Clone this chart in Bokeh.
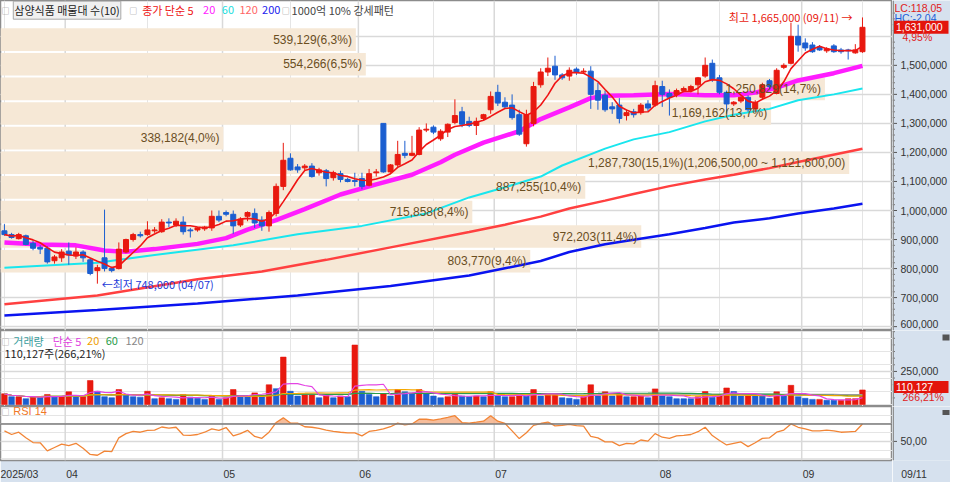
import numpy as np
import pandas as pd
from bokeh.plotting import figure
from bokeh.layouts import column, row
from bokeh.models import Range1d, FixedTicker, Label, Span, ColumnDataSource, Grid
from bokeh.core.properties import value
from bokeh.embed import file_html
from bokeh.resources import INLINE

# ---------------- data (prices in thousand KRW, volume in thousand shares) ----------------
month_start = [0, 9, 31, 50, 69, 92, 112]
month_labels = ["2025/03", "04", "05", "06", "07", "08", "09"]
last_date_label = "09/11"

opens = [930, 917, 903, 913, 887, 873, 870, 827, 837, 860,
         843, 857, 830, 793, 837, 800, 800, 857, 900, 917,
         917, 930, 927, 960, 950, 960, 933, 933, 937, 940,
         980, 993, 987, 950, 980, 990, 967, 947, 990, 1083,
         1180, 1150, 1147, 1153, 1130, 1137, 1113, 1127, 1107, 1103,
         1110, 1087, 1130, 1300, 1133, 1157, 1197, 1190, 1193, 1277,
         1287, 1247, 1270, 1303, 1340, 1307, 1293, 1317, 1347, 1407,
         1373, 1363, 1330, 1230, 1300, 1433, 1477, 1497, 1467, 1463,
         1487, 1477, 1480, 1413, 1397, 1357, 1363, 1327, 1340, 1337,
         1367, 1363, 1427, 1403, 1400, 1413, 1413, 1433, 1463, 1507,
         1457, 1407, 1367, 1377, 1390, 1350, 1390, 1447, 1403, 1493,
         1507, 1600, 1577, 1570, 1563, 1550, 1567, 1553, 1553, 1543,
         1547]
highs = [953, 923, 923, 917, 897, 880, 877, 847, 867, 890,
         873, 863, 837, 813, 1003, 807, 890, 903, 923, 927,
         963, 943, 970, 973, 973, 980, 940, 943, 947, 1000,
         1000, 1000, 1000, 977, 997, 1007, 980, 1000, 1093, 1233,
         1197, 1160, 1160, 1163, 1147, 1143, 1137, 1137, 1113, 1130,
         1130, 1143, 1143, 1300, 1160, 1240, 1240, 1257, 1287, 1300,
         1293, 1280, 1300, 1383, 1357, 1323, 1320, 1333, 1410, 1433,
         1390, 1400, 1347, 1347, 1443, 1490, 1527, 1533, 1473, 1493,
         1493, 1490, 1497, 1440, 1413, 1373, 1387, 1347, 1350, 1370,
         1380, 1447, 1447, 1417, 1420, 1427, 1433, 1460, 1527, 1520,
         1467, 1413, 1377, 1393, 1397, 1380, 1440, 1453, 1490, 1507,
         1647, 1640, 1593, 1580, 1570, 1563, 1573, 1560, 1557, 1573,
         1665]
lows = [913, 903, 900, 880, 863, 850, 817, 817, 823, 813,
        833, 823, 777, 748, 790, 787, 797, 853, 893, 907,
        913, 923, 923, 943, 943, 917, 907, 927, 930, 930,
        960, 980, 920, 943, 963, 940, 930, 927, 980, 1070,
        1137, 1130, 1137, 1113, 1120, 1083, 1103, 1097, 1097, 1083,
        1073, 1083, 1117, 1130, 1130, 1150, 1180, 1187, 1190, 1270,
        1263, 1240, 1253, 1297, 1287, 1287, 1260, 1310, 1333, 1360,
        1350, 1313, 1257, 1220, 1290, 1423, 1463, 1450, 1450, 1447,
        1467, 1470, 1350, 1347, 1340, 1333, 1300, 1310, 1320, 1330,
        1343, 1357, 1357, 1327, 1390, 1407, 1407, 1400, 1457, 1443,
        1400, 1333, 1360, 1370, 1340, 1340, 1383, 1420, 1400, 1487,
        1503, 1547, 1550, 1543, 1550, 1543, 1543, 1540, 1520, 1540,
        1543]
closes = [917, 907, 917, 883, 870, 867, 823, 840, 857, 847,
          857, 837, 783, 803, 800, 793, 867, 900, 917, 913,
          933, 933, 960, 957, 963, 927, 930, 940, 943, 980,
          967, 987, 947, 970, 993, 957, 947, 993, 1083, 1173,
          1140, 1140, 1153, 1117, 1140, 1110, 1130, 1107, 1100, 1100,
          1083, 1127, 1133, 1133, 1157, 1193, 1190, 1197, 1277, 1280,
          1270, 1273, 1297, 1327, 1297, 1293, 1307, 1330, 1393, 1370,
          1357, 1320, 1263, 1330, 1427, 1477, 1490, 1467, 1457, 1483,
          1477, 1480, 1400, 1380, 1347, 1350, 1317, 1337, 1330, 1363,
          1353, 1430, 1400, 1390, 1413, 1420, 1427, 1457, 1500, 1450,
          1407, 1367, 1373, 1390, 1347, 1373, 1433, 1427, 1483, 1500,
          1600, 1570, 1560, 1547, 1553, 1557, 1547, 1547, 1550, 1553,
          1631]

# moving averages (candle index, value)
ma20_idx = [0, 5, 10, 14, 17, 21, 27, 31, 34, 38, 42, 47, 52, 57, 61, 63, 67, 72, 75, 79,
            82, 84, 88, 93, 98, 102, 105, 108, 111, 116, 120]
ma20_val = [890, 883, 880, 862, 858, 867, 885, 905, 934, 967, 1005, 1055, 1090, 1123, 1166,
            1192, 1234, 1273, 1315, 1355, 1387, 1395, 1397, 1401, 1397, 1397, 1406, 1423,
            1448, 1473, 1498]
ma60_idx = [0, 13, 21, 32, 41, 50, 59, 65, 70, 75, 78, 84, 88, 93, 98, 102, 107, 111, 116, 120]
ma60_val = [803, 820, 847, 880, 918, 947, 990, 1045, 1080, 1117, 1155, 1213, 1245, 1270,
            1307, 1330, 1350, 1380, 1400, 1420]
ma120_idx = [0, 13, 27, 36, 45, 54, 65, 70, 75, 79, 84, 88, 93, 98, 102, 107, 111, 120]
ma120_val = [677, 707, 763, 790, 830, 873, 926, 951, 979, 1007, 1034, 1057, 1084, 1107,
             1123, 1146, 1167, 1213]
ma200_idx = [0, 13, 27, 41, 54, 65, 70, 75, 79, 84, 88, 93, 98, 102, 107, 111, 116, 120]
ma200_val = [638, 657, 680, 707, 740, 776, 801, 826, 857, 884, 899, 918, 940, 959, 973,
             990, 1007, 1023]

volumes = [81, 59, 59, 44, 59, 59, 76, 59, 59, 96,
           59, 59, 181, 100, 59, 51, 113, 76, 59, 56,
           100, 44, 51, 44, 39, 76, 56, 47, 39, 64,
           39, 51, 113, 64, 64, 88, 59, 149, 120, 358,
           100, 64, 76, 76, 51, 69, 51, 64, 59, 449,
           100, 76, 59, 81, 64, 113, 96, 83, 113, 83,
           64, 51, 59, 81, 64, 59, 64, 59, 96, 64,
           59, 59, 81, 64, 113, 64, 81, 81, 51, 47,
           39, 59, 149, 64, 96, 64, 81, 59, 59, 64,
           51, 118, 64, 59, 44, 44, 44, 59, 98, 56,
           64, 125, 98, 64, 64, 64, 64, 47, 96, 64,
           145, 59, 47, 39, 39, 32, 32, 32, 44, 44,
           110.127]
vol_up = [1, 0, 1, 0, 1, 0, 1, 0, 1, 1,
          0, 1, 1, 0, 0, 0, 1, 0, 0, 0,
          1, 0, 1, 0, 0, 1, 0, 0, 0, 1,
          0, 1, 1, 0, 0, 1, 0, 1, 0, 1,
          0, 0, 1, 1, 0, 1, 0, 1, 0, 1,
          0, 0, 0, 1, 0, 1, 0, 0, 1, 0,
          0, 0, 1, 1, 0, 0, 1, 0, 1, 0,
          0, 1, 1, 0, 1, 0, 1, 1, 0, 0,
          0, 1, 1, 0, 1, 0, 1, 0, 1, 1,
          0, 1, 0, 0, 0, 0, 0, 1, 1, 0,
          1, 1, 0, 0, 1, 0, 0, 0, 1, 0,
          1, 0, 0, 0, 1, 0, 0, 1, 1, 1,
          1]

rsi = [62.1, 57.9, 60.5, 54.1, 48.7, 48.4, 39.2, 43.0, 46.8, 45.2,
       47.8, 42.1, 35.1, 34.1, 38.9, 38.3, 54.1, 58.9, 61.4, 60.5,
       62.7, 63.0, 66.5, 65.2, 66.2, 57.3, 57.0, 57.9, 60.5, 64.3,
       62.7, 65.9, 56.3, 58.9, 62.7, 55.7, 53.5, 60.5, 71.6, 77.0,
       71.0, 71.0, 66.8, 66.2, 64.9, 63.0, 61.5, 60.5, 59.8, 59.8,
       56.3, 61.4, 62.7, 64.3, 66.8, 71.0, 69.0, 70.0, 75.4, 75.4,
       74.4, 75.7, 77.5, 79.5, 71.6, 71.0, 72.0, 73.2, 79.5, 73.2,
       70.6, 62.0, 53.2, 60.0, 68.4, 70.5, 72.2, 67.8, 68.4, 69.4,
       68.0, 67.5, 55.7, 54.1, 49.4, 49.4, 45.2, 47.8, 47.1, 51.6,
       50.3, 58.9, 54.8, 53.5, 56.3, 57.0, 57.9, 61.1, 66.2, 56.7,
       51.0, 45.9, 47.8, 49.4, 44.0, 48.4, 53.5, 54.1, 60.5, 63.0,
       70.0, 66.2, 64.3, 62.1, 62.1, 63.0, 62.1, 60.5, 61.0, 61.4,
       70.0]

# volume profile (매물대), bottom band first
band_volume = [803770, 972203, 715858, 887255, 1287730, 338182, 1169162, 1250829, 554266, 539129]
band_pct = ["9,4%", "11,4%", "8,4%", "10,4%", "15,1%", "4,0%", "13,7%", "14,7%", "6,5%", "6,3%"]
band_note = "(1,206,500,00 ~ 1,121,600,00)"

high_text = "최고 1,665,000 (09/11) →"
low_text = "←최저 748,000 (04/07)"
price_ticks = [600000, 700000, 800000, 900000, 1000000, 1100000, 1200000, 1300000, 1400000, 1500000]
lc_text, hc_text, chg_text = "LC:118,05", "HC:-2,04", "4,95%"
vol_tick, vol_chg_text = 250000, "266,21%"
vol_info = "110,127주(266,21%)"
rsi_tick, rsi_tick_label = 50, "50,00"

# ---------------- styling ----------------
K = 1000
UP, DOWN = "#e8190f", "#1b5ed0"
AXBG = "#d6e1ee"
BAND = "#f6e8d6"
GRID = "#d9d9d9"
SEP = "#8c8c8c"
KR = "Noto Sans CJK KR"
NUM = "Liberation Sans"
W, RB = 950, 58
MW = W - RB
x_lo, x_hi = -0.55, 124.2
xr = Range1d(x_lo, x_hi)


def px(xref):
    return (xref - 4) / 7.27


def lab(fig, x, y, text, color, size=11, align="left", font=KR, **kw):
    fig.add_layout(Label(x=x, y=y, text=text, text_color=color, text_font_size=f"{size}px",
                         text_font=font, text_align=align, text_baseline="middle", **kw))


def base(height, yr, grid_ticks, bottom=0, xaxis=None):
    f = figure(width=MW, height=height, x_range=xr, y_range=yr, x_axis_location=xaxis,
               y_axis_location=None, output_backend="svg", toolbar_location=None, title=None,
               min_border_left=0, min_border_right=0, min_border_top=0, min_border_bottom=bottom,
               background_fill_color="white", border_fill_color=AXBG,
               outline_line_color=SEP, outline_line_width=1.5)
    f.add_layout(Grid(dimension=1, ticker=FixedTicker(ticks=grid_ticks),
                      grid_line_color=GRID, grid_line_width=1.3))
    for s in month_start[1:]:
        f.add_layout(Span(location=s - 0.5, dimension="height", line_color=GRID,
                          line_width=1.5, level="underlay"))
    return f


def side(height, yr, ticks, labels, minor, label_y=None, bottom=0, xaxis=None):
    s = figure(width=RB, height=height, x_range=Range1d(0, RB), y_range=yr,
               x_axis_location=xaxis, y_axis_location=None, output_backend="svg",
               toolbar_location=None, title=None, min_border_left=0, min_border_right=0,
               min_border_top=0, min_border_bottom=bottom, background_fill_color=AXBG,
               border_fill_color=AXBG, outline_line_color=None)
    s.add_layout(Span(location=0.7, dimension="height", line_color=SEP, line_width=1.5))
    if minor:
        s.segment(x0=0, x1=2.5, y0=minor, y1=minor, line_color="#777777", line_width=1)
    s.segment(x0=0, x1=4.5, y0=ticks, y1=ticks, line_color="#555555", line_width=1)
    s.text(x=[8] * len(ticks), y=label_y if label_y is not None else ticks, text=labels,
           text_font=value(NUM), text_font_size="10.5px", text_baseline="middle",
           text_color="#333333")
    return s


def stext(s, x, y, t, color):
    s.text(x=[x], y=[y], text=[t], text_font=value(NUM), text_font_size="10.5px",
           text_baseline="middle", text_color=color)


def redbox(s, y, half, t):
    s.quad(left=[1.5], right=[56], bottom=[y - half], top=[y + half], fill_color="#e3140c",
           line_color=None)
    stext(s, 3.5, y, t, "white")


idx = np.arange(len(closes))
o = np.array(opens) * K
h = np.array(highs) * K
l = np.array(lows) * K
c = np.array(closes) * K

# ---------------- price panel ----------------
yr1 = Range1d(586667, 1723333)
upp1 = (yr1.end - yr1.start) / 330
p1 = base(330, yr1, list(range(600000, 1600001, 100000)))

edges = np.linspace(c.min(), c.max(), len(band_volume) + 1)
bv = np.array(band_volume)
band_right = x_lo + bv / bv.max() * 118.7
inset = 3500
p1.quad(left=x_lo, right=band_right, bottom=edges[:-1] + inset, top=edges[1:] - inset,
        fill_color=BAND, line_color=None)
for k in range(len(bv)):
    t = f"{bv[k]:,}({band_pct[k]})" + (band_note if k == int(bv.argmax()) else "")
    lab(p1, band_right[k] - 0.55, (edges[k] + edges[k + 1]) / 2, t, "#6a4e1f", size=12,
        align="right", font=NUM)

p1.line(np.array(ma200_idx), np.array(ma200_val) * K, line_color="#0a14f0", line_width=2.5)
p1.line(np.array(ma120_idx), np.array(ma120_val) * K, line_color="#ff4040", line_width=2.5)
p1.line(np.array(ma60_idx), np.array(ma60_val) * K, line_color="#19e6ee", line_width=2)
p1.line(np.array(ma20_idx), np.array(ma20_val) * K, line_color="#ff1cff", line_width=4.5)

src = ColumnDataSource(dict(x=idx, l=l, h=h, top=np.maximum(o, c), bot=np.minimum(o, c),
                            col=np.where(c > o, UP, DOWN)))
p1.segment(x0="x", y0="l", x1="x", y1="h", line_color="col", line_width=1, source=src)
p1.vbar(x="x", width=0.7, top="top", bottom="bot", fill_color="col", line_color="col",
        line_width=1, source=src)
ma5 = pd.Series(c).rolling(5, min_periods=1).mean().values
p1.line(idx, ma5, line_color="#f01414", line_width=1.6)

imax = int(h.argmax())
imin = int(l.argmin())
lab(p1, imax - 1.4, h.max(), high_text, "#e8190f", size=11, align="right")
lab(p1, imin + 0.6, l.min(), low_text, "#2238d8", size=11)

# header
hy = 1690000
lab(p1, px(1), hy, "□", "#888888", size=8)
lab(p1, px(13), hy, "삼양식품 매물대 수(10)", "#222222", size=11,
    background_fill_color="#f0f0f0", border_line_color="#a8a8a8", padding=1)
lab(p1, px(131), hy, "□", "#888888", size=8)
lab(p1, px(144), hy, "종가 단순 5", "#ee1111", size=11)
lab(p1, px(206), hy, "20", "#ff22ff", size=11)
lab(p1, px(225), hy, "60", "#22dddd", size=11)
lab(p1, px(243), hy, "120", "#ff6666", size=11)
lab(p1, px(266), hy, "200", "#2222ee", size=11)
lab(p1, px(286), hy, "□", "#888888", size=8)
lab(p1, px(296), hy, "1000억 10% 강세패턴", "#444444", size=11)

# tick labels; the lowest one is nudged up so it is not clipped by the panel edge
price_label_y = [t + (3 * upp1 if t == price_ticks[0] else 0) for t in price_ticks]
s1 = side(330, yr1, price_ticks, [f"{t:,}" for t in price_ticks],
          [v for v in range(600000, 1700001, 20000) if v % 100000], label_y=price_label_y)
stext(s1, 2, 1696667, lc_text, "#e02020")
stext(s1, 2, 1663333, hc_text, "#2060d8")
redbox(s1, c[-1], 6.5 * upp1, f"{int(c[-1]):,}")
stext(s1, 10, 1596667, chg_text, "#e02020")

# ---------------- volume panel ----------------
yr2 = Range1d(-14700, 558800)
upp2 = (yr2.end - yr2.start) / 76
p2 = base(76, yr2, [vol_tick])
vol = np.array(volumes) * K
vcol = np.where(np.array(vol_up) == 1, UP, DOWN)
p2.vbar(x=idx, top=vol, bottom=0, width=0.78, fill_color=vcol, line_color=vcol, line_alpha=0.6)
vs = pd.Series(vol)
p2.line(idx, vs.rolling(120, min_periods=1).mean().values, line_color="#9a9a9a", line_width=1.2)
p2.line(idx, vs.rolling(60, min_periods=1).mean().values, line_color="#2a9d4a", line_width=1.2)
p2.line(idx, vs.rolling(20, min_periods=1).mean().values, line_color="#f5a800", line_width=1.2)
p2.line(idx, vs.rolling(5, min_periods=1).mean().values, line_color="#e445e4", line_width=1.2)

vy = 478000
lab(p2, px(1), vy, "□", "#888888", size=8)
lab(p2, px(13), vy, "거래량", "#3a9e9e", size=11)
lab(p2, px(53), vy, "단순 5", "#e040e0", size=11)
lab(p2, px(88), vy, "20", "#f0a000", size=11)
lab(p2, px(107), vy, "60", "#2a9d4a", size=11)
lab(p2, px(127), vy, "120", "#888888", size=11)
lab(p2, px(4), 390000, vol_info, "#222222", size=11)

s2 = side(76, yr2, [vol_tick], [f"{vol_tick:,}"],
          [v for v in range(50000, 550001, 50000) if v != vol_tick])
redbox(s2, vol[-1] + 3 * upp2, 6 * upp2, f"{int(round(vol[-1])):,}")
stext(s2, 10, vol[-1] - 7.5 * upp2, vol_chg_text, "#e02020")
s2.quad(left=[50], right=[57], bottom=[yr2.end - 10 * upp2], top=[yr2.end - 4 * upp2],
        fill_color="#555555", line_color=None)

# ---------------- RSI panel ----------------
yr3 = Range1d(28.1, 90)
p3 = base(76, yr3, [rsi_tick], bottom=13, xaxis="below")
p3.add_layout(Span(location=70, dimension="width", line_color="#7a7a7a", line_width=1.5))
r = np.array(rsi)
p3.varea(x=idx, y1=np.full(len(r), 70.0), y2=np.maximum(r, 70.0), fill_color="#f5b28a",
         fill_alpha=0.85)
p3.line(idx, r, line_color="#f28536", line_width=1.3)
lab(p3, px(1), 84.3, "□", "#888888", size=8)
lab(p3, px(13), 84.3, "RSI 14", "#f07828", size=11, font=NUM)

tick_pos = [x_lo + 2.65] + [s + 0.45 for s in month_start[1:]]
xa = p3.xaxis[0]
xa.ticker = FixedTicker(ticks=tick_pos, minor_ticks=[])
xa.major_label_overrides = {t: lbl for t, lbl in zip(tick_pos, month_labels)}
xa.axis_line_color = None
xa.major_tick_line_color = None
xa.minor_tick_line_color = None
xa.major_label_standoff = 1
xa.major_label_text_font = NUM
xa.major_label_text_font_size = "10.5px"
xa.major_label_text_color = "#333333"

s3 = side(76, yr3, [rsi_tick], [rsi_tick_label], [], bottom=13, xaxis="below")
upp3 = (yr3.end - yr3.start) / 63
s3.quad(left=[50], right=[57], bottom=[yr3.end - 10 * upp3], top=[yr3.end - 4 * upp3],
        fill_color="#555555", line_color=None)
xb = s3.xaxis[0]
xb.ticker = FixedTicker(ticks=[21.5], minor_ticks=[])
xb.major_label_overrides = {21.5: last_date_label}
xb.axis_line_color = None
xb.major_tick_line_color = None
xb.minor_tick_line_color = None
xb.major_label_standoff = 1
xb.major_label_text_font = NUM
xb.major_label_text_font_size = "10.5px"
xb.major_label_text_color = "#333333"
for f in (s1, s2, s3):
    for g in f.grid:
        g.visible = False
p3.xgrid.visible = False

layout = column(row(p1, s1), row(p2, s2), row(p3, s3))
open("out.html", "w").write(file_html(layout, INLINE))
